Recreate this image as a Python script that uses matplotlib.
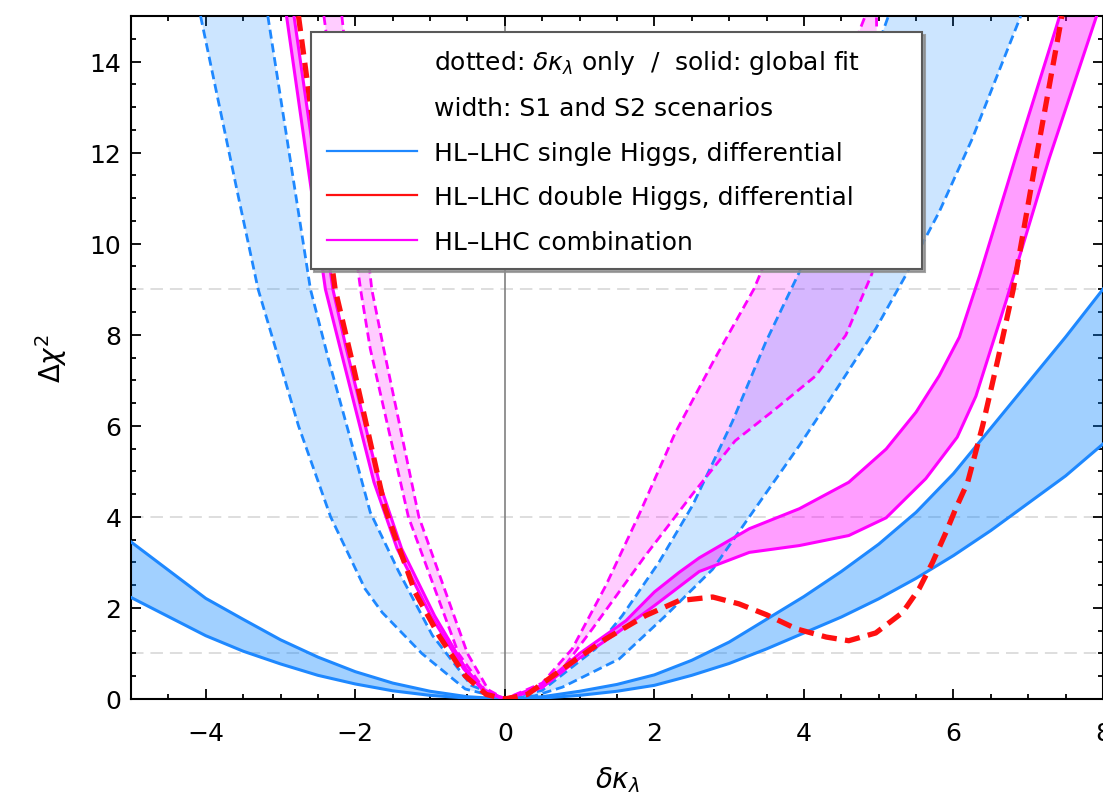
import matplotlib
matplotlib.use("Agg")
import matplotlib.pyplot as plt
from matplotlib.lines import Line2D
from matplotlib.ticker import MultipleLocator

plt.rcParams['font.family'] = ['DejaVu Sans']
plt.rcParams['mathtext.fontset'] = 'dejavusans'
plt.rcParams['lines.scale_dashes'] = False

# single Higgs, global fit (solid band)
sh_fit_x = [-5, -4.5, -4, -3.5, -3, -2.5, -2, -1.5, -1, -0.5, 0, 0.5, 1, 1.5, 2, 2.5,
            3, 3.5, 4, 4.5, 5, 5.5, 6, 6.5, 7, 7.5, 8]
sh_fit_hi = [3.45, 2.83, 2.21, 1.75, 1.30, 0.92, 0.60, 0.35, 0.17, 0.05, 0, 0.05, 0.17, 0.32,
             0.53, 0.85, 1.25, 1.75, 2.25, 2.80, 3.40, 4.10, 4.95, 5.95, 6.95, 7.95, 9.00]
sh_fit_lo = [2.23, 1.81, 1.39, 1.05, 0.77, 0.52, 0.33, 0.18, 0.08, 0.02, 0, 0.02, 0.08, 0.17,
             0.30, 0.52, 0.78, 1.10, 1.45, 1.80, 2.20, 2.65, 3.15, 3.70, 4.30, 4.90, 5.60]

# single Higgs, dk_lambda only (dashed band): S1 and S2 edges
sh_only_s1_x = [-4.07, -3.56, -3.30, -2.76, -2.33, -1.87, -1.64, -1.11, -0.53, 0, 0.4, 0.77,
                1.53, 2.15, 2.78, 3.27, 3.94, 4.47, 4.96, 5.36, 5.81, 6.25, 6.90]
sh_only_s1_y = [15, 11, 9, 6.0, 4.0, 2.42, 1.9, 1.0, 0.22, 0, 0.07, 0.26,
                0.88, 1.83, 2.85, 4.0, 5.57, 6.89, 8.13, 9.3, 10.7, 12.3, 15]
sh_only_s2_x = [-3.17, -2.60, -2.36, -2.09, -1.80, -1.42, -0.97, -0.45, 0, 0.5, 1.21, 1.57,
                2.06, 2.51, 3.04, 3.49, 3.94, 4.50, 5.13]
sh_only_s2_y = [15, 9, 7.47, 5.86, 4.1, 2.8, 1.4, 0.3, 0, 0.19, 1.1, 1.83,
                3.0, 4.25, 6.08, 7.84, 9.38, 12.1, 15]

# HL-LHC combination, global fit (solid band)
cb_fit_s1_x = [-2.92, -2.40, -2.20, -1.75, -1.44, -0.99, -0.55, -0.27, 0, 0.5, 1.0, 1.5, 2.0,
               2.6, 3.27, 3.94, 4.6, 5.1, 5.63, 6.05, 6.3, 6.7, 7.28, 7.91]
cb_fit_s1_y = [15, 9, 7.69, 4.76, 3.3, 1.83, 0.66, 0.15, 0, 0.25, 0.9, 1.45, 2.05,
               2.8, 3.22, 3.37, 3.59, 3.98, 4.84, 5.75, 6.65, 8.72, 11.87, 14.98]
cb_fit_s2_x = [-2.82, -2.30, -2.12, -1.68, -1.38, -0.94, -0.52, -0.25, 0, 0.5, 1.0, 1.62, 2.0,
               2.33, 2.6, 3.27, 3.94, 4.6, 5.1, 5.5, 5.81, 6.08, 6.35, 6.84, 7.37, 7.42]
cb_fit_s2_y = [15, 9, 7.69, 4.76, 3.3, 1.83, 0.66, 0.15, 0, 0.3, 1.0, 1.72, 2.35,
               2.78, 3.1, 3.74, 4.18, 4.76, 5.49, 6.3, 7.1, 7.95, 9.3, 11.94, 14.73, 15]

# HL-LHC combination, dk_lambda only (dashed band)
cb_only_s1_x = [-2.42, -1.93, -1.80, -1.29, -0.62, -0.27, 0, 0.4, 0.77, 1.17, 1.88, 2.51,
                3.08, 3.62, 4.16, 4.56, 4.91, 5.0, 4.97]
cb_only_s1_y = [15, 9, 7.69, 4.0, 1.0, 0.2, 0, 0.18, 0.66, 1.54, 3.15, 4.5,
                5.67, 6.37, 7.1, 7.99, 9.34, 12, 15]
cb_only_s2_x = [-2.18, -1.78, -1.62, -1.15, -0.50, -0.22, 0, 0.5, 0.9, 1.35, 1.79, 2.28,
                2.80, 3.33, 4.1, 4.82]
cb_only_s2_y = [15, 9, 7.69, 4.0, 1.0, 0.2, 0, 0.35, 1.1, 2.49, 4.03, 5.85,
                7.45, 9.0, 12, 15]

# double Higgs, differential (dk_lambda only)
dh_x = [-2.76, -2.27, -2.04, -1.60, -1.20, -0.88, -0.53, -0.25, 0, 0.3, 0.77, 1.35, 1.88,
        2.33, 2.78, 3.13, 3.5, 3.9, 4.3, 4.6, 4.96, 5.32, 5.54, 5.72, 5.90, 6.03, 6.19,
        6.39, 6.60, 6.80, 7.12, 7.45]
dh_y = [15, 9, 7.4, 4.18, 2.34, 1.39, 0.51, 0.1, 0, 0.1, 0.66, 1.32, 1.83,
        2.16, 2.24, 2.09, 1.85, 1.54, 1.36, 1.28, 1.45, 1.9, 2.42, 3.0, 3.66, 4.18, 4.76,
        6.0, 7.5, 9.0, 12.0, 15.0]

ref_levels = [1, 4, 9]

legend_labels = [r'dotted: $\delta\kappa_\lambda$ only  /  solid: global fit',
                 'width: S1 and S2 scenarios',
                 'HL\u2013LHC single Higgs, differential',
                 'HL\u2013LHC double Higgs, differential',
                 'HL\u2013LHC combination']

BLUE = '#1E88FF'
RED = '#FF1010'
MAG = '#FF00FF'


def band(ax, x1, y1, x2, y2, color, alpha):
    ax.fill(list(x1) + list(x2)[::-1], list(y1) + list(y2)[::-1],
            color=color, alpha=alpha, lw=0, zorder=2)


fig = plt.figure(figsize=(11.03, 8.03), dpi=100)
ax = fig.add_axes([131 / 1103, 1 - 700 / 803, 972 / 1103, 683 / 803])

for lev in ref_levels:
    ax.axhline(lev, color='0.83', lw=1.1, dashes=(9, 5), zorder=1)
ax.axvline(0, color='0.5', lw=1.2, zorder=1)

# fills
band(ax, sh_only_s1_x, sh_only_s1_y, sh_only_s2_x, sh_only_s2_y, '#0080FF', 0.2)
ax.fill_between(sh_fit_x, sh_fit_lo, sh_fit_hi, color='#0080FF', alpha=0.37, lw=0, zorder=2)
band(ax, cb_only_s1_x, cb_only_s1_y, cb_only_s2_x, cb_only_s2_y, MAG, 0.2)
band(ax, cb_fit_s1_x, cb_fit_s1_y, cb_fit_s2_x, cb_fit_s2_y, MAG, 0.38)

# edges
dash = (6.5, 3.5)
ax.plot(sh_only_s1_x, sh_only_s1_y, color=BLUE, lw=2.0, dashes=dash, zorder=3)
ax.plot(sh_only_s2_x, sh_only_s2_y, color=BLUE, lw=2.0, dashes=dash, zorder=3)
ax.plot(sh_fit_x, sh_fit_hi, color=BLUE, lw=2.2, zorder=3)
ax.plot(sh_fit_x, sh_fit_lo, color=BLUE, lw=2.2, zorder=3)
ax.plot(cb_only_s1_x, cb_only_s1_y, color=MAG, lw=2.0, dashes=dash, zorder=4)
ax.plot(cb_only_s2_x, cb_only_s2_y, color=MAG, lw=2.0, dashes=dash, zorder=4)
ax.plot(cb_fit_s1_x, cb_fit_s1_y, color=MAG, lw=2.2, zorder=4)
ax.plot(cb_fit_s2_x, cb_fit_s2_y, color=MAG, lw=2.2, zorder=4)
ax.plot(dh_x, dh_y, color=RED, lw=3.8, dashes=(11, 6), zorder=5)

ax.set_xlim(-5, 8)
ax.set_ylim(0, 15)
ax.set_xticks([-4, -2, 0, 2, 4, 6, 8])
ax.set_xticklabels(['\u22124', '\u22122', '0', '2', '4', '6', '8'])
ax.set_yticks(range(0, 15, 2))
ax.xaxis.set_minor_locator(MultipleLocator(0.5))
ax.yaxis.set_minor_locator(MultipleLocator(0.5))
ax.tick_params(which='both', direction='in', top=True, right=True, width=1.3, labelsize=18)
ax.tick_params(which='major', length=7)
ax.tick_params(which='minor', length=3.8)
ax.tick_params(axis='x', pad=16)
ax.tick_params(axis='y', pad=7)
for s in ax.spines.values():
    s.set_linewidth(1.5)

ax.set_xlabel(r'$\delta\kappa_\lambda$', fontsize=20, labelpad=14)
ax.set_ylabel(r'$\Delta\chi^2$', fontsize=20, labelpad=15)

handles = [Line2D([], [], color='none'), Line2D([], [], color='none'),
           Line2D([], [], color=BLUE, lw=1.6), Line2D([], [], color=RED, lw=1.6),
           Line2D([], [], color=MAG, lw=1.6)]
leg = ax.legend(handles, legend_labels, loc='upper left',
                bbox_to_anchor=(180 / 972, 1 - 16 / 683 - 0.344, 611 / 972, 0.344),
                mode='expand', borderaxespad=0, fontsize=18, handlelength=3.6,
                handletextpad=0.68, labelspacing=0.82, borderpad=0.62,
                fancybox=False, edgecolor='0.35', framealpha=1,
                shadow={'color': '0.55', 'alpha': 0.8})
leg.get_frame().set_linewidth(1.5)
leg.set_zorder(10)

fig.savefig('out.png', dpi=100)
